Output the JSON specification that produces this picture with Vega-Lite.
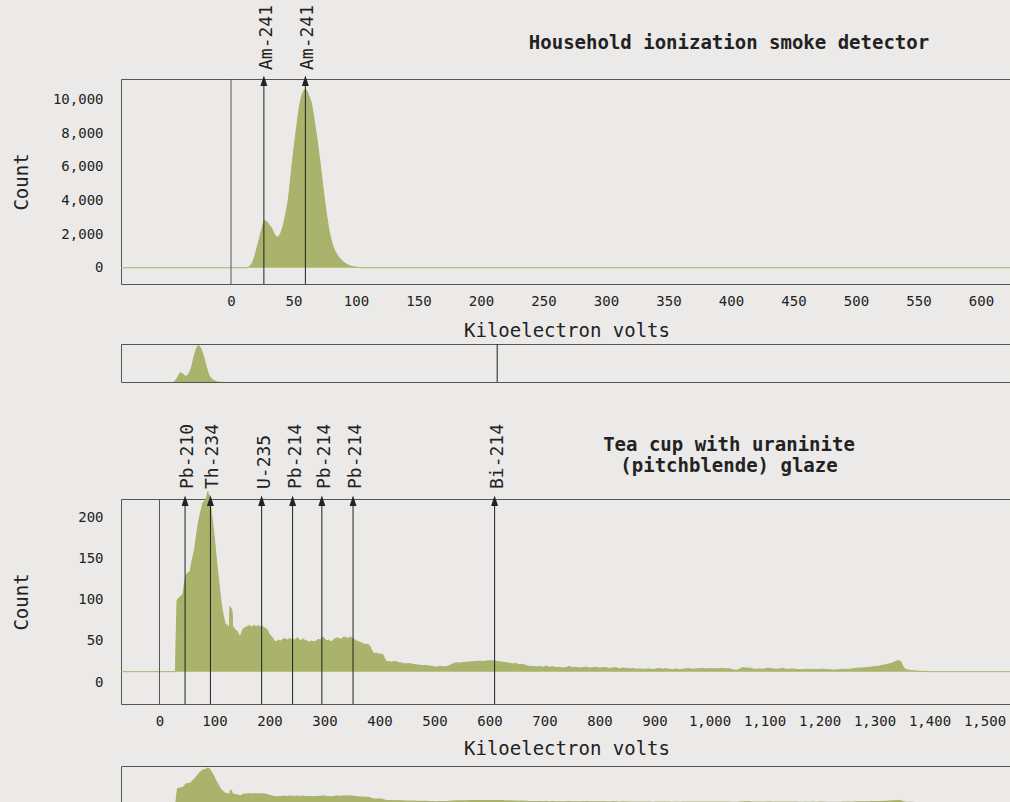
{
 "$schema": "https://vega.github.io/schema/vega-lite/v6.json",
 "background": "#ebeae8",
 "padding": {"left": 11, "top": 4, "right": 0, "bottom": 0},
 "config": {
  "view": {"stroke": "#555", "strokeWidth": 1},
  "font": "DejaVu Sans Mono",
  "axis": {"labelFont": "DejaVu Sans Mono", "labelFontSize": 14, "labelColor": "#222", "titleFont": "DejaVu Sans Mono", "titleFontSize": 19, "titleFontWeight": "normal", "titleColor": "#222", "ticks": false, "domain": false, "grid": false},
  "title": {"font": "DejaVu Sans Mono", "fontSize": 19, "fontWeight": "bold", "color": "#222"}
 },
 "datasets": {
  "smoke": [
   {"kev": -88, "count": 0}, {"kev": 13.3, "count": 0}, {"kev": 15, "count": 100}, {"kev": 17.3, "count": 340}, {"kev": 19, "count": 700}, {"kev": 21.3, "count": 1330}, {"kev": 24, "count": 2125}, {"kev": 26, "count": 2650}, {"kev": 27.2, "count": 2815}, {"kev": 28.5, "count": 2750}, {"kev": 30, "count": 2600}, {"kev": 32, "count": 2410}, {"kev": 34.5, "count": 2050}, {"kev": 36.8, "count": 1830}, {"kev": 39, "count": 1950}, {"kev": 41.3, "count": 2400}, {"kev": 43.5, "count": 3100}, {"kev": 45.9, "count": 4107}, {"kev": 48.8, "count": 6090}, {"kev": 52, "count": 8077}, {"kev": 56, "count": 10060}, {"kev": 58, "count": 10500}, {"kev": 59.2, "count": 10610}, {"kev": 60.5, "count": 10550}, {"kev": 62, "count": 10300}, {"kev": 64, "count": 9860}, {"kev": 68, "count": 8077}, {"kev": 71.5, "count": 6090}, {"kev": 74.7, "count": 4107}, {"kev": 78.7, "count": 2125}, {"kev": 82, "count": 1200}, {"kev": 85.3, "count": 730}, {"kev": 90, "count": 350}, {"kev": 94.4, "count": 140}, {"kev": 100, "count": 40}, {"kev": 106, "count": 0}, {"kev": 712, "count": 0}
  ],
  "tea": [
   {"kev": -70, "count": 12.6}, {"kev": 29, "count": 12.6}, {"kev": 30.4, "count": 60}, {"kev": 32, "count": 100}, {"kev": 37.6, "count": 104}, {"kev": 42.4, "count": 107}, {"kev": 45.5, "count": 121}, {"kev": 48.5, "count": 131}, {"kev": 52, "count": 133}, {"kev": 55.8, "count": 135}, {"kev": 59.4, "count": 149}, {"kev": 63.6, "count": 161}, {"kev": 66.5, "count": 175}, {"kev": 69.7, "count": 190}, {"kev": 72.5, "count": 200}, {"kev": 75.8, "count": 210}, {"kev": 78.8, "count": 218}, {"kev": 83.6, "count": 222}, {"kev": 86, "count": 226}, {"kev": 87.9, "count": 232}, {"kev": 89.5, "count": 226}, {"kev": 90.9, "count": 228}, {"kev": 93.9, "count": 210}, {"kev": 97, "count": 192}, {"kev": 100, "count": 174}, {"kev": 103, "count": 152}, {"kev": 106, "count": 133}, {"kev": 109, "count": 115}, {"kev": 112, "count": 97}, {"kev": 114, "count": 88}, {"kev": 116.4, "count": 80}, {"kev": 119, "count": 72}, {"kev": 121.2, "count": 68}, {"kev": 123, "count": 70}, {"kev": 125.5, "count": 66}, {"kev": 127, "count": 67}, {"kev": 128, "count": 92}, {"kev": 130, "count": 90}, {"kev": 132, "count": 86}, {"kev": 133, "count": 70}, {"kev": 134.5, "count": 64}, {"kev": 136, "count": 66}, {"kev": 138, "count": 62}, {"kev": 140, "count": 63}, {"kev": 142.4, "count": 60}, {"kev": 144, "count": 58}, {"kev": 146.7, "count": 56}, {"kev": 149, "count": 59}, {"kev": 151.5, "count": 64}, {"kev": 155, "count": 66}, {"kev": 158, "count": 67}, {"kev": 160.6, "count": 68}, {"kev": 164, "count": 69}, {"kev": 167, "count": 67}, {"kev": 169.7, "count": 68}, {"kev": 173, "count": 69}, {"kev": 176, "count": 67}, {"kev": 179, "count": 69}, {"kev": 181.8, "count": 68}, {"kev": 185, "count": 67}, {"kev": 188, "count": 68}, {"kev": 190, "count": 66}, {"kev": 193.9, "count": 65}, {"kev": 197, "count": 62}, {"kev": 200, "count": 58}, {"kev": 203, "count": 56}, {"kev": 206, "count": 53}, {"kev": 209, "count": 50}, {"kev": 212, "count": 49}, {"kev": 216, "count": 51}, {"kev": 220, "count": 50}, {"kev": 224, "count": 52}, {"kev": 228, "count": 53}, {"kev": 232, "count": 51}, {"kev": 236, "count": 53}, {"kev": 240, "count": 52}, {"kev": 242.4, "count": 53}, {"kev": 246, "count": 51}, {"kev": 250, "count": 54}, {"kev": 254, "count": 52}, {"kev": 258, "count": 50}, {"kev": 260.6, "count": 53}, {"kev": 264, "count": 51}, {"kev": 268, "count": 50}, {"kev": 272.7, "count": 48.7}, {"kev": 276, "count": 50}, {"kev": 280, "count": 49}, {"kev": 284.8, "count": 50}, {"kev": 288, "count": 52}, {"kev": 292, "count": 51}, {"kev": 297, "count": 55}, {"kev": 300, "count": 53}, {"kev": 304, "count": 50}, {"kev": 308, "count": 51}, {"kev": 312, "count": 49}, {"kev": 316, "count": 51}, {"kev": 320, "count": 53}, {"kev": 324, "count": 54}, {"kev": 328, "count": 52}, {"kev": 332, "count": 53}, {"kev": 335, "count": 55}, {"kev": 339, "count": 54}, {"kev": 343, "count": 53}, {"kev": 347, "count": 55}, {"kev": 351, "count": 53}, {"kev": 354, "count": 52}, {"kev": 358, "count": 50}, {"kev": 362, "count": 49}, {"kev": 366, "count": 48}, {"kev": 369, "count": 47}, {"kev": 373, "count": 46}, {"kev": 377, "count": 46}, {"kev": 381.8, "count": 44.6}, {"kev": 385, "count": 40}, {"kev": 388, "count": 36}, {"kev": 390.9, "count": 35}, {"kev": 395, "count": 35}, {"kev": 400, "count": 34}, {"kev": 406, "count": 33.7}, {"kev": 409, "count": 29}, {"kev": 413, "count": 24.8}, {"kev": 418, "count": 25}, {"kev": 422, "count": 24}, {"kev": 426, "count": 25}, {"kev": 430, "count": 24.8}, {"kev": 436, "count": 23.6}, {"kev": 442, "count": 23}, {"kev": 448, "count": 22}, {"kev": 454, "count": 22.5}, {"kev": 460.6, "count": 21.5}, {"kev": 467, "count": 21}, {"kev": 473, "count": 20.5}, {"kev": 479, "count": 20}, {"kev": 485, "count": 20}, {"kev": 491, "count": 19.5}, {"kev": 497, "count": 19}, {"kev": 503, "count": 18}, {"kev": 509, "count": 19}, {"kev": 515, "count": 18.5}, {"kev": 521, "count": 18.7}, {"kev": 527, "count": 20}, {"kev": 533, "count": 22}, {"kev": 539.4, "count": 23.6}, {"kev": 546, "count": 23}, {"kev": 552, "count": 24}, {"kev": 558, "count": 24}, {"kev": 564, "count": 24.5}, {"kev": 569.7, "count": 24.8}, {"kev": 576, "count": 25}, {"kev": 582, "count": 25.5}, {"kev": 588, "count": 25}, {"kev": 594, "count": 25.6}, {"kev": 600, "count": 26}, {"kev": 609, "count": 25.6}, {"kev": 615, "count": 25}, {"kev": 621, "count": 24.5}, {"kev": 630, "count": 23.6}, {"kev": 636, "count": 23}, {"kev": 642, "count": 22}, {"kev": 648, "count": 22.5}, {"kev": 654, "count": 21}, {"kev": 660.6, "count": 21.5}, {"kev": 667, "count": 20}, {"kev": 673, "count": 19}, {"kev": 679, "count": 19}, {"kev": 685, "count": 18.3}, {"kev": 691, "count": 19}, {"kev": 697, "count": 18}, {"kev": 703, "count": 19.5}, {"kev": 709, "count": 18}, {"kev": 715, "count": 18.7}, {"kev": 721, "count": 17.5}, {"kev": 727, "count": 18}, {"kev": 733, "count": 17}, {"kev": 739.4, "count": 17.5}, {"kev": 745, "count": 19}, {"kev": 751, "count": 17.5}, {"kev": 757, "count": 18}, {"kev": 763, "count": 17}, {"kev": 769, "count": 17.5}, {"kev": 775.8, "count": 18.3}, {"kev": 782, "count": 17}, {"kev": 788, "count": 17.5}, {"kev": 794, "count": 18}, {"kev": 800, "count": 17}, {"kev": 806, "count": 17.5}, {"kev": 812, "count": 17.5}, {"kev": 818, "count": 16.5}, {"kev": 824, "count": 17}, {"kev": 830, "count": 17.5}, {"kev": 836, "count": 16}, {"kev": 842, "count": 17}, {"kev": 848.5, "count": 16.7}, {"kev": 855, "count": 16}, {"kev": 861, "count": 16.5}, {"kev": 867, "count": 15.5}, {"kev": 873, "count": 16}, {"kev": 879, "count": 15.5}, {"kev": 885, "count": 15.5}, {"kev": 891, "count": 16}, {"kev": 897, "count": 15}, {"kev": 903, "count": 16}, {"kev": 909, "count": 16.5}, {"kev": 915, "count": 15.5}, {"kev": 921, "count": 16.3}, {"kev": 927, "count": 15.5}, {"kev": 933, "count": 15}, {"kev": 939, "count": 16}, {"kev": 945, "count": 15}, {"kev": 951, "count": 15.5}, {"kev": 957, "count": 16}, {"kev": 963.6, "count": 16.3}, {"kev": 970, "count": 15.5}, {"kev": 976, "count": 16}, {"kev": 982, "count": 16.3}, {"kev": 988, "count": 16.5}, {"kev": 994, "count": 16}, {"kev": 1000, "count": 16.3}, {"kev": 1006, "count": 16.5}, {"kev": 1012, "count": 16}, {"kev": 1018, "count": 16.3}, {"kev": 1024, "count": 16.5}, {"kev": 1030, "count": 16}, {"kev": 1036, "count": 16.3}, {"kev": 1042, "count": 15}, {"kev": 1048.5, "count": 14.2}, {"kev": 1054, "count": 15.5}, {"kev": 1060.6, "count": 17.5}, {"kev": 1066, "count": 17}, {"kev": 1072, "count": 17}, {"kev": 1078, "count": 16}, {"kev": 1085, "count": 15.5}, {"kev": 1091, "count": 16}, {"kev": 1097, "count": 15.5}, {"kev": 1103, "count": 16.5}, {"kev": 1109, "count": 16.7}, {"kev": 1115, "count": 16}, {"kev": 1121, "count": 15.5}, {"kev": 1127, "count": 16}, {"kev": 1133, "count": 16.5}, {"kev": 1139, "count": 15.5}, {"kev": 1145.5, "count": 15.5}, {"kev": 1151, "count": 16}, {"kev": 1157, "count": 15.5}, {"kev": 1163, "count": 15}, {"kev": 1169.7, "count": 15}, {"kev": 1176, "count": 15.5}, {"kev": 1182, "count": 15}, {"kev": 1188, "count": 15.5}, {"kev": 1194, "count": 15}, {"kev": 1200, "count": 15.5}, {"kev": 1206, "count": 15.5}, {"kev": 1212, "count": 15}, {"kev": 1218, "count": 15}, {"kev": 1224, "count": 14.6}, {"kev": 1230, "count": 14.6}, {"kev": 1236, "count": 15}, {"kev": 1242, "count": 15.5}, {"kev": 1248, "count": 15.5}, {"kev": 1254.5, "count": 15.5}, {"kev": 1260, "count": 16}, {"kev": 1266.7, "count": 16.7}, {"kev": 1272, "count": 17}, {"kev": 1278, "count": 17}, {"kev": 1285, "count": 17.5}, {"kev": 1291, "count": 17.9}, {"kev": 1297, "count": 18.5}, {"kev": 1303, "count": 19}, {"kev": 1309, "count": 19.5}, {"kev": 1315, "count": 20.5}, {"kev": 1321, "count": 21}, {"kev": 1327, "count": 22.3}, {"kev": 1332, "count": 23}, {"kev": 1336, "count": 24.3}, {"kev": 1340, "count": 25.5}, {"kev": 1344, "count": 26.3}, {"kev": 1346, "count": 25.5}, {"kev": 1348.5, "count": 24.3}, {"kev": 1351, "count": 20}, {"kev": 1354.5, "count": 16.3}, {"kev": 1358, "count": 15}, {"kev": 1363.6, "count": 14.2}, {"kev": 1370, "count": 13.8}, {"kev": 1375.8, "count": 13.4}, {"kev": 1388, "count": 13}, {"kev": 1400, "count": 12.6}, {"kev": 1748, "count": 12.6}
  ],
  "smokeMarks": [{"kev": 26.3, "label": "Am-241"}, {"kev": 59.5, "label": "Am-241"}],
  "teaMarks": [{"kev": 46.5, "label": "Pb-210"}, {"kev": 92.6, "label": "Th-234"}, {"kev": 185.7, "label": "U-235"}, {"kev": 242, "label": "Pb-214"}, {"kev": 295.2, "label": "Pb-214"}, {"kev": 351.9, "label": "Pb-214"}, {"kev": 609.3, "label": "Bi-214"}],
  "zero": [{"kev": 0}],
  "ovRule": [{"kev": 590}]
 },
 "resolve": {"scale": {"x": "independent", "y": "independent"}},
 "spacing": 40,
 "vconcat": [
  {
   "spacing": 2,
   "resolve": {"scale": {"x": "independent", "y": "independent"}},
   "vconcat": [
    {
     "width": 1000, "height": 205,
     "title": {"text": "Household ionization smoke detector", "anchor": "middle", "frame": "group", "dx": 108, "offset": -63, "baseline": "alphabetic"},
     "layer": [
      {"data": {"name": "smoke"},
       "mark": {"type": "area", "color": "#a9b36b", "opacity": 1, "interpolate": "monotone", "line": {"color": "#a9b36b", "strokeWidth": 1}},
       "encoding": {
        "x": {"field": "kev", "type": "quantitative", "scale": {"domain": [-88, 712], "nice": false, "zero": false}, "axis": {"values": [0, 50, 100, 150, 200, 250, 300, 350, 400, 450, 500, 550, 600, 650, 700], "title": "Kiloelectron volts", "titleX": 445.5, "labelPadding": 10, "titlePadding": 13}},
        "y": {"field": "count", "type": "quantitative", "scale": {"domain": [-967, 11232], "nice": false, "zero": false}, "axis": {"values": [0, 2000, 4000, 6000, 8000, 10000], "format": ",.0f", "title": "Count", "labelPadding": 18, "minExtent": 86, "maxExtent": 86, "titlePadding": 4}},
        "y2": {"datum": 0}
       }},
      {"data": {"name": "zero"}, "mark": {"type": "rule", "color": "#555", "strokeWidth": 1}, "encoding": {"x": {"field": "kev", "type": "quantitative"}}},
      {"data": {"name": "smokeMarks"}, "mark": {"type": "rule", "color": "#222", "strokeWidth": 1}, "encoding": {"x": {"field": "kev", "type": "quantitative"}}},
      {"data": {"name": "smokeMarks"}, "mark": {"type": "point", "shape": "M0,-0.68L0.66,1.32L-0.66,1.32Z", "filled": true, "color": "#222", "size": 112, "opacity": 1}, "encoding": {"x": {"field": "kev", "type": "quantitative"}, "y": {"datum": 11232}}},
      {"data": {"name": "smokeMarks"}, "mark": {"type": "text", "angle": 270, "align": "left", "baseline": "middle", "dx": 9, "dy": 3, "font": "DejaVu Sans Mono", "fontSize": 18, "color": "#222"}, "encoding": {"x": {"field": "kev", "type": "quantitative"}, "y": {"datum": 11232}, "text": {"field": "label"}}}
     ]
    },
    {
     "width": 1000, "height": 38,
     "layer": [
      {"data": {"name": "smoke"}, "mark": {"type": "area", "color": "#a9b36b", "opacity": 1, "interpolate": "monotone"},
       "encoding": {
        "x": {"field": "kev", "type": "quantitative", "scale": {"domain": [-78.2, 1698], "nice": false, "zero": false}, "axis": null},
        "y": {"field": "count", "type": "quantitative", "scale": {"domain": [0, 11000], "nice": false}, "axis": null}
       }},
      {"data": {"name": "ovRule"}, "mark": {"type": "rule", "color": "#222", "strokeWidth": 1}, "encoding": {"x": {"field": "kev", "type": "quantitative"}}}
     ]
    }
   ]
  },
  {
   "spacing": 6,
   "resolve": {"scale": {"x": "independent", "y": "independent"}},
   "vconcat": [
    {
     "width": 1000, "height": 205,
     "title": {"text": ["Tea cup with uraninite", "(pitchblende) glaze"], "lineHeight": 21, "anchor": "middle", "frame": "group", "dx": 108, "offset": -67, "baseline": "alphabetic"},
     "layer": [
      {"data": {"name": "tea"},
       "mark": {"type": "area", "color": "#a9b36b", "opacity": 1, "interpolate": "linear", "line": {"color": "#a9b36b", "strokeWidth": 1}},
       "encoding": {
        "x": {"field": "kev", "type": "quantitative", "scale": {"domain": [-70, 1748.2], "nice": false, "zero": false}, "axis": {"values": [0, 100, 200, 300, 400, 500, 600, 700, 800, 900, 1000, 1100, 1200, 1300, 1400, 1500, 1600, 1700], "format": ",.0f", "title": "Kiloelectron volts", "titleX": 445.5, "labelPadding": 10, "titlePadding": 11}},
        "y": {"field": "count", "type": "quantitative", "scale": {"domain": [-26.8, 223], "nice": false, "zero": false}, "axis": {"values": [0, 50, 100, 150, 200], "format": ",.0f", "title": "Count", "labelPadding": 18, "minExtent": 86, "maxExtent": 86, "titlePadding": 4}},
        "y2": {"datum": 12.6}
       }},
      {"data": {"name": "zero"}, "mark": {"type": "rule", "color": "#555", "strokeWidth": 1}, "encoding": {"x": {"field": "kev", "type": "quantitative"}}},
      {"data": {"name": "teaMarks"}, "mark": {"type": "rule", "color": "#222", "strokeWidth": 1}, "encoding": {"x": {"field": "kev", "type": "quantitative"}}},
      {"data": {"name": "teaMarks"}, "mark": {"type": "point", "shape": "M0,-0.68L0.66,1.32L-0.66,1.32Z", "filled": true, "color": "#222", "size": 112, "opacity": 1}, "encoding": {"x": {"field": "kev", "type": "quantitative"}, "y": {"datum": 223}}},
      {"data": {"name": "teaMarks"}, "mark": {"type": "text", "angle": 270, "align": "left", "baseline": "middle", "dx": 10, "dy": 3, "font": "DejaVu Sans Mono", "fontSize": 18, "color": "#222"}, "encoding": {"x": {"field": "kev", "type": "quantitative"}, "y": {"datum": 223}, "text": {"field": "label"}}}
     ]
    },
    {
     "width": 1000, "height": 38,
     "layer": [
      {"data": {"name": "tea"}, "mark": {"type": "area", "color": "#a9b36b", "opacity": 1, "interpolate": "linear"},
       "encoding": {
        "x": {"field": "kev", "type": "quantitative", "scale": {"domain": [-70, 1748.2], "nice": false, "zero": false}, "axis": null},
        "y": {"field": "count", "type": "quantitative", "scale": {"domain": [0, 240], "nice": false}, "axis": null}
       }}
     ]
    }
   ]
  }
 ]
}
